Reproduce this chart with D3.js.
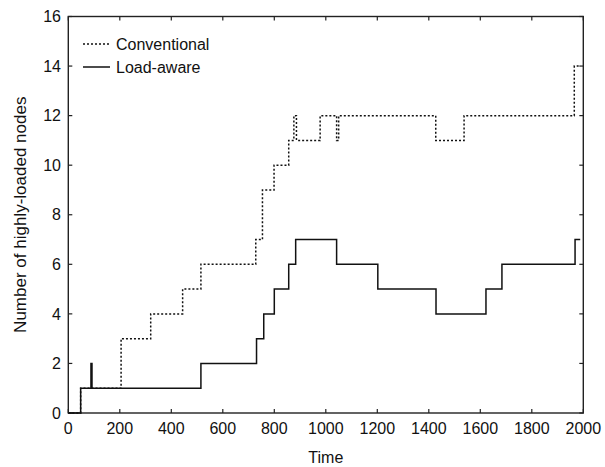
<!DOCTYPE html>
<html><head><meta charset="utf-8">
<script src="https://cdn.jsdelivr.net/npm/d3@7"></script>
<style>
html,body{margin:0;padding:0;background:#fff;}
text{font-family:"Liberation Sans",Arial,Helvetica,sans-serif;fill:#111;}
</style></head>
<body>
<svg id="c" width="605" height="467"></svg>
<script>
// Data (step functions: value holds from time[i] until time[i+1])
const convTimes  = [0, 48, 205, 320, 444, 515, 728, 754, 799, 856, 876, 886, 978, 1042, 1050, 1427, 1537, 1965, 1990];
const convValues = [0, 1, 3, 4, 5, 6, 7, 9, 10, 11, 12, 11, 12, 11, 12, 11, 12, 14, 14];
const loadTimes  = [0, 48, 88, 92, 515, 731, 759, 800, 856, 883, 1042, 1202, 1428, 1622, 1684, 1968, 1988];
const loadValues = [0, 1, 2, 1, 2, 3, 4, 5, 6, 7, 6, 5, 4, 5, 6, 7, 7];
const xTicks = [0,200,400,600,800,1000,1200,1400,1600,1800,2000];
const yTicks = [0,2,4,6,8,10,12,14,16];
const seriesNames = ["Conventional","Load-aware"];

const svg = d3.select("#c");
const L=68.3, R=583.3, T=16.5, B=413;
const x = d3.scaleLinear().domain([0,2000]).range([L,R]);
const y = d3.scaleLinear().domain([0,16]).range([B,T]);

// frame
svg.append("rect").attr("x",L).attr("y",T).attr("width",R-L).attr("height",B-T)
  .attr("fill","none").attr("stroke","#222").attr("stroke-width",1.4);

const tk=4;
const g = svg.append("g").attr("stroke","#222").attr("stroke-width",1.2);
xTicks.forEach(t=>{
  g.append("line").attr("x1",x(t)).attr("x2",x(t)).attr("y1",B).attr("y2",B-tk);
  g.append("line").attr("x1",x(t)).attr("x2",x(t)).attr("y1",T).attr("y2",T+tk);
});
yTicks.forEach(t=>{
  g.append("line").attr("x1",L).attr("x2",L+tk).attr("y1",y(t)).attr("y2",y(t));
  g.append("line").attr("x1",R).attr("x2",R-tk).attr("y1",y(t)).attr("y2",y(t));
});

svg.selectAll(".xl").data(xTicks).enter().append("text")
  .attr("x",d=>x(d)).attr("y",433.5).attr("text-anchor","middle")
  .attr("font-size",16).text(d=>d);
svg.selectAll(".yl").data(yTicks).enter().append("text")
  .attr("x",61).attr("y",d=>y(d)+5.7).attr("text-anchor","end")
  .attr("font-size",16).text(d=>d);

svg.append("text").attr("x",(L+R)/2).attr("y",463).attr("text-anchor","middle")
  .attr("font-size",16).text("Time");
svg.append("text").attr("transform",`translate(26,${(T+B)/2}) rotate(-90)`)
  .attr("text-anchor","middle").attr("font-size",17).text("Number of highly-loaded nodes");

const line = d3.line().x(d=>x(d[0])).y(d=>y(d[1])).curve(d3.curveStepAfter);
const conv = convTimes.map((t,i)=>[t,convValues[i]]);
const load = loadTimes.map((t,i)=>[t,loadValues[i]]);

svg.append("path").attr("d",line(load)).attr("fill","none").attr("stroke","#111").attr("stroke-width",1.5);
svg.append("path").attr("d",line(conv)).attr("fill","none").attr("stroke","#111").attr("stroke-width",1.5)
  .attr("stroke-dasharray","2,2");

// legend
const leg = [[seriesNames[0],"2,2",44],[seriesNames[1],null,67]];
leg.forEach(([name,dash,ly])=>{
  const l = svg.append("line").attr("x1",83).attr("x2",110).attr("y1",ly).attr("y2",ly)
    .attr("stroke","#111").attr("stroke-width",1.5);
  if(dash) l.attr("stroke-dasharray",dash);
  svg.append("text").attr("x",116).attr("y",ly+5.7).attr("font-size",16).text(name);
});
</script>
</body></html>
